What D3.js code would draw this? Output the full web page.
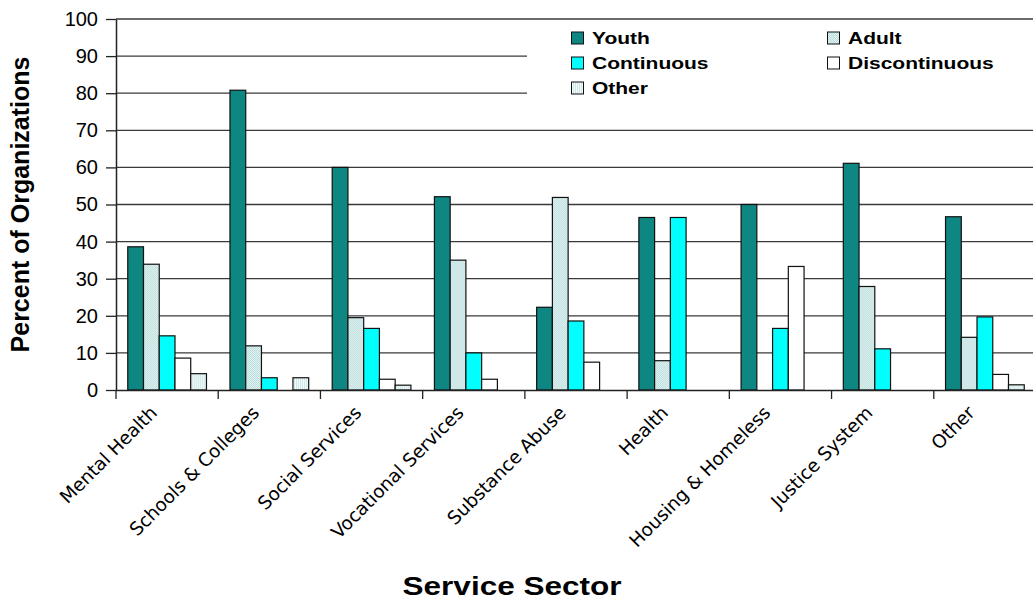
<!DOCTYPE html>
<html>
<head>
<meta charset="utf-8">
<script src="https://cdn.jsdelivr.net/npm/d3@7"></script>
<style>
  html, body { margin: 0; padding: 0; background: #fff; }
  svg { display: block; }
</style>
</head>
<body>
<svg id="chart" width="1033" height="604"></svg>
<script>
// ---- data ----
const categories = ["Mental Health", "Schools & Colleges", "Social Services", "Vocational Services",
  "Substance Abuse", "Health", "Housing & Homeless", "Justice System", "Other"];
const seriesNames = ["Youth", "Adult", "Continuous", "Discontinuous", "Other"];
const youth         = [38.6, 80.8, 60.0, 52.1, 22.3, 46.5, 50.0, 61.1, 46.7];
const adult         = [33.9, 11.9, 19.5, 35.0, 51.9, 7.9, 0, 27.9, 14.2];
const continuous    = [14.6, 3.3, 16.6, 10.0, 18.6, 46.5, 16.6, 11.1, 19.7];
const discontinuous = [8.6, 0, 2.9, 2.9, 7.5, 0, 33.3, 0, 4.2];
const other         = [4.4, 3.3, 1.3, 0, 0, 0, 0, 0, 1.4];
const yTicks = [0, 10, 20, 30, 40, 50, 60, 70, 80, 90, 100];
const seriesValues = [youth, adult, continuous, discontinuous, other];

// ---- layout ----
const svg = d3.select("#chart");
const mLeft = 116, mRight = 1036, mTop = 19, mBottom = 390;

const defs = svg.append("defs");
const pA = defs.append("pattern").attr("id", "patAdult").attr("patternUnits", "userSpaceOnUse")
  .attr("width", 2).attr("height", 2);
pA.append("rect").attr("width", 2).attr("height", 2).attr("fill", "#e6f3f3");
pA.append("rect").attr("width", 1).attr("height", 1).attr("fill", "#b8dcdc");
pA.append("rect").attr("x", 1).attr("y", 1).attr("width", 1).attr("height", 1).attr("fill", "#b8dcdc");
const pO = defs.append("pattern").attr("id", "patOther").attr("patternUnits", "userSpaceOnUse")
  .attr("width", 2).attr("height", 2);
pO.append("rect").attr("width", 2).attr("height", 2).attr("fill", "#f2fafa");
pO.append("rect").attr("width", 1).attr("height", 2).attr("fill", "#cfe8e8");

const fills = ["#0e8682", "url(#patAdult)", "#00ffff", "#ffffff", "url(#patOther)"];

const x0 = d3.scaleBand().domain(categories).range([mLeft, mRight]).paddingInner(0.23).paddingOuter(0.115);
const x1 = d3.scaleBand().domain(seriesNames.map((d, i) => i)).range([0, x0.bandwidth()]);
const y = d3.scaleLinear().domain([0, 100]).range([mBottom, mTop]);

// gridlines
svg.append("g").selectAll("line").data(yTicks.filter(t => t > 0)).join("line")
  .attr("x1", mLeft).attr("x2", 1033)
  .attr("y1", d => y(d)).attr("y2", d => y(d))
  .attr("stroke", "#3a3a3a").attr("stroke-width", 1.3);

// legend background (covers part of gridlines)
svg.append("rect").attr("x", 527).attr("y", y(100) + 1.5).attr("width", 520).attr("height", 85)
  .attr("fill", "#fff");

// bars
const groups = svg.append("g").selectAll("g").data(categories).join("g")
  .attr("transform", d => `translate(${x0(d)},0)`);
groups.selectAll("rect").data((c, ci) => seriesValues.map((vals, si) => ({si, v: vals[ci]})).filter(d => d.v > 0))
  .join("rect")
  .attr("x", d => x1(d.si))
  .attr("width", x1.bandwidth())
  .attr("y", d => y(d.v))
  .attr("height", d => y(0) - y(d.v))
  .attr("fill", d => fills[d.si])
  .attr("stroke", "#111")
  .attr("stroke-width", 1.2);

// y axis
const yAxis = d3.axisLeft(y).tickValues(yTicks).tickSize(10).tickSizeOuter(0).tickPadding(8);
const gy = svg.append("g").attr("transform", `translate(${mLeft},0)`).call(yAxis);
gy.select(".domain").attr("stroke", "#222").attr("stroke-width", 1.5);
gy.selectAll(".tick line").attr("stroke", "#222").attr("stroke-width", 1.3);
gy.selectAll(".tick text").attr("font-family", "Liberation Sans, Arial, sans-serif")
  .attr("font-size", 20).attr("fill", "#000");

// x axis
const step = x0.step();
const xAxis = d3.axisBottom(x0).tickSize(9).tickSizeOuter(0).tickFormat("");
const gx = svg.append("g").attr("transform", `translate(0,${mBottom})`).call(xAxis);
gx.select(".domain").attr("stroke", "#222").attr("stroke-width", 1.5).attr("d", `M${mLeft},0.5H1033`);
gx.selectAll(".tick line").attr("stroke", "#222").attr("stroke-width", 1.3)
  .attr("transform", `translate(${-step / 2},0)`);

// category labels
svg.append("g").selectAll("text").data(categories).join("text")
  .attr("transform", d => `translate(${x0(d) + x0.bandwidth() / 2 - 9},${mBottom + 24}) rotate(-45)`)
  .attr("text-anchor", "end")
  .attr("font-family", "DejaVu Sans, Verdana, sans-serif")
  .attr("font-size", 18.5)
  .attr("letter-spacing", -0.1)
  .attr("fill", "#000")
  .text(d => d);

// axis titles
svg.append("text")
  .attr("transform", `translate(29,${(mTop + mBottom) / 2}) rotate(-90)`)
  .attr("text-anchor", "middle")
  .attr("font-family", "Liberation Sans, Arial, sans-serif")
  .attr("font-weight", "bold").attr("font-size", 25)
  .text("Percent of Organizations");

svg.append("text")
  .attr("transform", `translate(512,595) scale(1,0.82)`)
  .attr("text-anchor", "middle")
  .attr("font-family", "Liberation Sans, Arial, sans-serif")
  .attr("font-weight", "bold").attr("font-size", 31.5)
  .text("Service Sector");

// legend
const legendPos = [[571, 38], [827, 38], [571, 63], [827, 63], [571, 88]];
const lg = svg.append("g").selectAll("g").data(seriesNames).join("g")
  .attr("transform", (d, i) => `translate(${legendPos[i][0]},${legendPos[i][1]})`);
lg.append("rect").attr("x", 0.5).attr("y", -6).attr("width", 12).attr("height", 12)
  .attr("fill", (d, i) => fills[i]).attr("stroke", "#111").attr("stroke-width", 1);
lg.append("text").attr("x", 21).attr("y", 0)
  .attr("transform", "scale(1,0.8)")
  .attr("dy", "0.36em")
  .attr("font-family", "Liberation Sans, Arial, sans-serif")
  .attr("font-weight", "bold").attr("font-size", 21)
  .attr("fill", "#000")
  .text(d => d);
</script>
</body>
</html>
